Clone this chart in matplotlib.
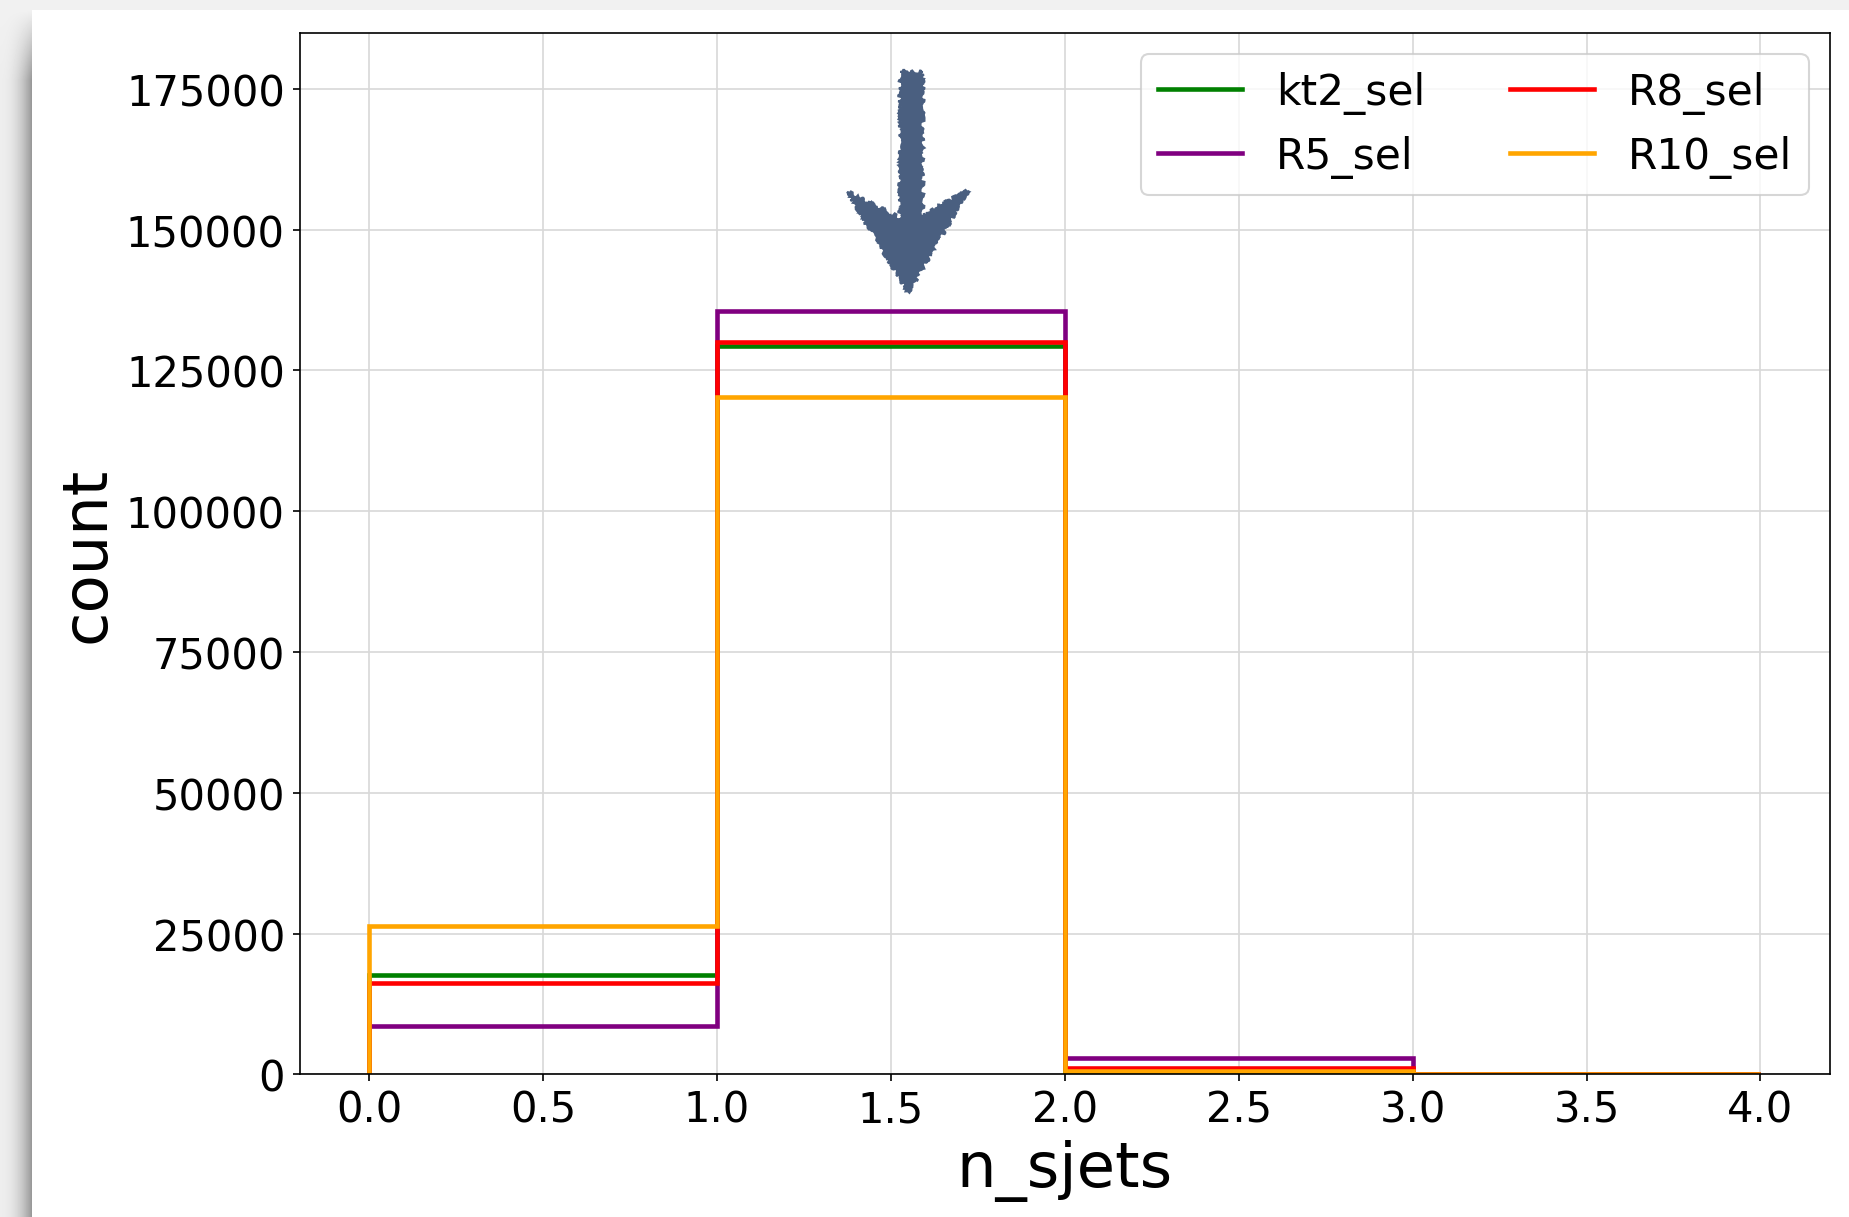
import numpy as np
import matplotlib
matplotlib.use("Agg")
import matplotlib.pyplot as plt
from matplotlib.patches import Polygon

# ---- data ----
bin_edges = [0, 1, 2, 3, 4]
series_names = ["kt2_sel", "R5_sel", "R8_sel", "R10_sel"]
series_colors = ["green", "purple", "red", "orange"]
kt2_sel = [17600, 129400, 250, 20]
R5_sel = [8600, 135500, 2850, 40]
R8_sel = [16300, 130000, 1100, 30]
R10_sel = [26400, 120200, 620, 30]
series_values = [kt2_sel, R5_sel, R8_sel, R10_sel]
x_label = "n_sjets"
y_label = "count"

W, H, DPI = 1849, 1218, 150
fig = plt.figure(figsize=(W / DPI, H / DPI), dpi=DPI)
fig.patch.set_facecolor("white")

# ---- screenshot-like shadow background ----
bg = fig.add_axes([0, 0, 1, 1], zorder=-10)
img = np.ones((H, W))
yy = np.arange(H)[:, None]
xx = np.arange(W)[None, :]
top = 11
left = 32
img[:top, :] = 0.945
fade = np.clip((yy - top) / 70.0, 0, 1)
shade = 0.93 - 0.33 * (np.clip(xx[:, :left] / (left - 1), 0, 1) ** 2.2)
left_vals = 0.945 + (shade - 0.945) * fade
img[top:, :left] = left_vals[top:, :]
bg.imshow(img, cmap="gray", vmin=0, vmax=1, aspect="auto", interpolation="bilinear")
bg.axis("off")

ax = fig.add_axes([299.5 / W, 1 - 1075.4 / H, (1830 - 299.5) / W, (1075.4 - 34) / H])

LW = 2.2
for name, color, vals in zip(series_names, series_colors, series_values):
    ax.stairs(vals, bin_edges, baseline=0, color=color, lw=LW, label=name)

ax.set_xlim(-0.2, 4.2)
ax.set_ylim(0, 184900)
ax.grid(True, color="#d8d8d8", lw=0.8)
ax.set_axisbelow(True)
ax.tick_params(labelsize=20)
ax.set_xlabel(x_label, fontsize=30)
ax.set_ylabel(y_label, fontsize=30)

leg = ax.legend(ncol=2, loc="upper right", fontsize=20.25)
for h in leg.get_lines():
    h.set_linewidth(LW)

# ---- hand-drawn style down arrow annotation (axes decoration) ----
cx = 1.559
hw = 0.032
arrow_pts = [
    (cx - hw, 178000), (cx + hw, 178000), (cx + hw, 152500),
    (1.723, 157000), (1.550, 138900), (1.375, 156700), (cx - hw, 152000),
]
arr = Polygon(arrow_pts, closed=True, facecolor="#4a5f80", edgecolor="#4a5f80",
              lw=1.0, zorder=5)
arr.set_sketch_params(scale=2, length=10, randomness=20)
ax.add_patch(arr)

fig.savefig("out.png", dpi=DPI)
